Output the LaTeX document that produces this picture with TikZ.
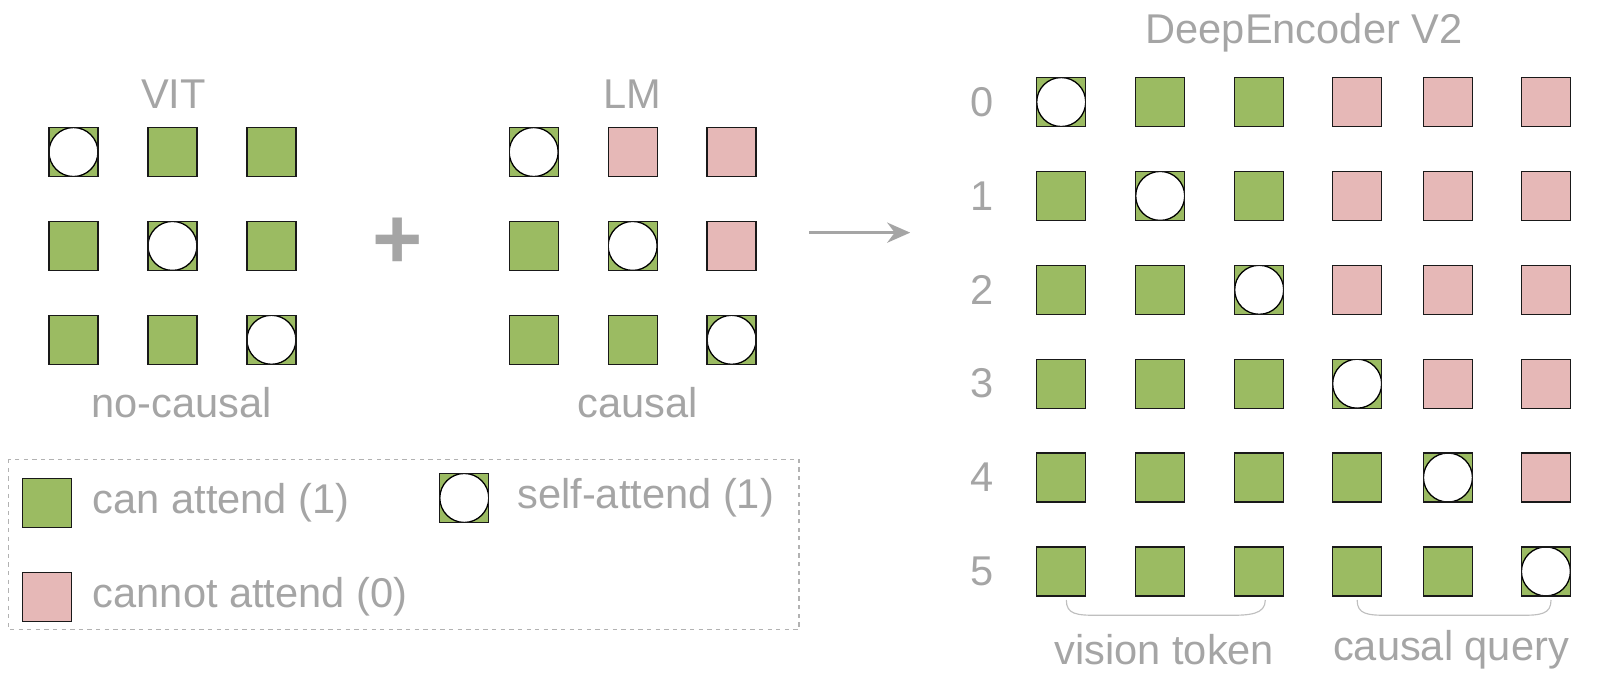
\documentclass[tikz,border=0pt]{standalone}
\usepackage{fontspec}
\setmainfont{Liberation Sans}
\usetikzlibrary{arrows.meta}
\begin{document}
\begin{tikzpicture}[x=0.025cm,y=-0.025cm,
 sq/.style={draw=black!90,line width=0.9pt,minimum size=1.2cm,inner sep=0pt},
 g/.style={sq,fill=gr},
 p/.style={sq,fill=pk},
 s/.style={sq,fill=gr,path picture={\fill[white,draw=black,line width=0.9pt] (path picture bounding box.center) circle (0.6cm);}},
 lab/.style={text=tx,font=\fontsize{29}{34}\selectfont},
 br/.style={draw=black!25,line width=0.8pt}]
\definecolor{gr}{RGB}{155,187,98}
\definecolor{pk}{RGB}{230,184,183}
\definecolor{tx}{RGB}{165,165,165}
\useasboundingbox (0,0) rectangle (1568,663);
% VIT
\node[lab] (vit) at (170,92) {VIT};
\foreach \r/\y in {0/149,1/241,2/333}{
 \foreach \c/\x in {0/72,1/169,2/266}{
  \ifnum\r=\c \node[s] (v\r\c) at (\x,\y) {};\else \node[g] (v\r\c) at (\x,\y) {};\fi
 }}
\node[lab] (nc) at (178,395) {no-causal};
\node[text=tx,font=\fontsize{60}{60}\selectfont\bfseries] (plus) at (390,238) {+};
% LM
\node[lab] (lm) at (620,92) {LM};
\foreach \r/\y in {0/149,1/241,2/333}{
 \foreach \c/\x in {0/523,1/620,2/717}{
  \ifnum\r=\c \node[s] (l\r\c) at (\x,\y) {};\else\ifnum\c>\r \node[p] (l\r\c) at (\x,\y) {};\else \node[g] (l\r\c) at (\x,\y) {};\fi\fi
 }}
\node[lab] (ca) at (625,395) {causal};
\coordinate (a1) at (793,228); \coordinate (a2) at (892,228);
\draw[tx,line width=2.2pt,-{Stealth[length=16pt,width=14pt]}] (a1) -- (a2);
% Right
\node[lab] (de) at (1278,32) {DeepEncoder V2};
\foreach \r/\y in {0/100,1/192,2/284,3/376,4/468,5/560}{
 \node[lab] (n\r) at (962,\y) {\r};
 \foreach \c/\x in {0/1040,1/1137,2/1234,3/1330,4/1419,5/1515}{
  \ifnum\r=\c \node[s] (d\r\c) at (\x,\y) {};\else
  \ifnum\c>\r \ifnum\c>2 \node[p] (d\r\c) at (\x,\y) {};\else \node[g] (d\r\c) at (\x,\y) {};\fi
  \else \node[g] (d\r\c) at (\x,\y) {};\fi\fi
 }}
\draw[br] (1045,588) .. controls (1045,602) and (1055,603) .. (1075,603) -- (1205,603) .. controls (1225,603) and (1240,602) .. (1240,588);
\draw[br] (1330,588) .. controls (1330,602) and (1340,603) .. (1360,603) -- (1490,603) .. controls (1510,603) and (1520,602) .. (1520,588);
\node[lab] (vt) at (1141,637) {vision token};
\node[lab] (cq) at (1422,637) {causal query};
% legend
\draw[black!30,dashed,line width=0.8pt] (8,450) rectangle (783,617);
\node[g] (lg) at (46,493) {};
\node[lab,anchor=west] (lgt) at (86,493) {can attend (1)};
\node[p] (lp) at (46,585) {};
\node[lab,anchor=west] (lpt) at (86,585) {cannot attend (0)};
\node[s] (ls) at (455,488) {};
\node[lab,anchor=west] (lst) at (502,488) {self-attend (1)};
\end{tikzpicture}
\end{document}
